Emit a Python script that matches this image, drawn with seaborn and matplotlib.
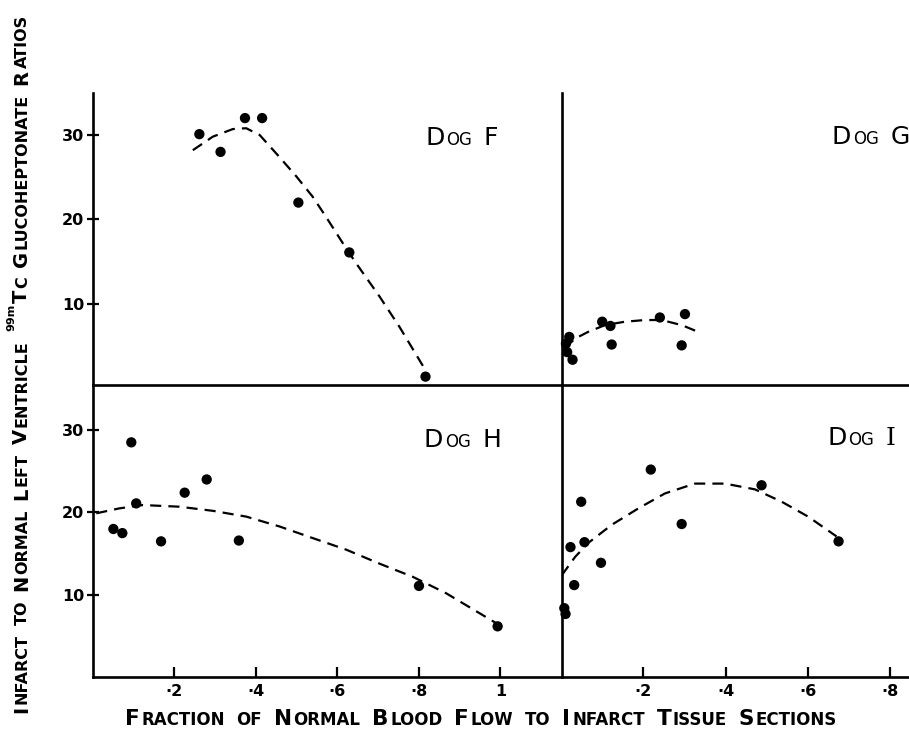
import numpy as np
import pandas as pd
import seaborn as sns
import matplotlib
matplotlib.use("Agg")
import matplotlib.pyplot as plt
from matplotlib.transforms import IdentityTransform

# ---------------- data ----------------
dog_f_x = [0.261, 0.313, 0.373, 0.415, 0.504, 0.629, 0.816]
dog_f_y = [30.1, 28.0, 32.0, 32.0, 22.0, 16.1, 1.4]
curve_f_x = [0.245, 0.294, 0.343, 0.376, 0.409, 0.450, 0.499, 0.539, 0.572, 0.613, 0.646, 0.703, 0.752, 0.818]
curve_f_y = [28.2, 29.8, 30.7, 30.8, 30.0, 27.8, 25.1, 22.7, 20.3, 17.2, 14.8, 10.9, 7.3, 2.0]

dog_g_x = [0.020, 0.012, 0.015, 0.028, 0.100, 0.120, 0.123, 0.240, 0.301, 0.293]
dog_g_y = [6.1, 5.3, 4.3, 3.4, 7.9, 7.4, 5.2, 8.4, 8.8, 5.1]
curve_g_x = [0.010, 0.034, 0.066, 0.107, 0.155, 0.204, 0.244, 0.293, 0.333]
curve_g_y = [4.8, 5.9, 6.7, 7.5, 7.9, 8.1, 8.1, 7.5, 6.7]

dog_h_x = [0.050, 0.072, 0.094, 0.106, 0.167, 0.225, 0.279, 0.358, 0.800, 0.993]
dog_h_y = [18.0, 17.5, 28.5, 21.1, 16.5, 22.4, 24.0, 16.6, 11.1, 6.2]
curve_h_x = [0.008, 0.065, 0.122, 0.212, 0.294, 0.376, 0.458, 0.539, 0.621, 0.703, 0.785, 0.867, 0.989]
curve_h_y = [19.9, 20.5, 20.9, 20.7, 20.2, 19.5, 18.3, 16.9, 15.5, 13.8, 12.2, 10.2, 6.6]

dog_i_x = [0.008, 0.011, 0.032, 0.023, 0.049, 0.057, 0.097, 0.218, 0.293, 0.487, 0.674]
dog_i_y = [8.4, 7.7, 11.2, 15.8, 21.3, 16.4, 13.9, 25.2, 18.6, 23.3, 16.5]
curve_i_x = [0.002, 0.034, 0.066, 0.123, 0.188, 0.252, 0.325, 0.398, 0.471, 0.536, 0.600, 0.669]
curve_i_y = [12.4, 14.6, 16.3, 18.5, 20.5, 22.3, 23.5, 23.5, 22.8, 21.3, 19.5, 17.1]

y_ticks = [10, 20, 30]
y_tick_labels = ["10", "20", "30"]
x_ticks_left = [0.2, 0.4, 0.6, 0.8, 1.0]
x_tick_labels_left = ["·2", "·4", "·6", "·8", "1"]
x_ticks_right = [0.2, 0.4, 0.6, 0.8]
x_tick_labels_right = ["·2", "·4", "·6", "·8"]

# ---------------- figure ----------------
sns.set_theme(style="white")
plt.rcParams["font.family"] = ["DejaVu Sans"]

W, H = 909, 732
fig = plt.figure(figsize=(W / 100, H / 100), dpi=100)
fig.patch.set_facecolor("white")


def ax_at(x0, x1, ytop, ybot):
    return fig.add_axes([x0 / W, (H - ybot) / H, (x1 - x0) / W, (ybot - ytop) / H])


axF = ax_at(93, 562, 93, 385)
axG = ax_at(562, 909, 93, 385)
axH = ax_at(93, 562, 385, 677)
axI = ax_at(562, 909, 385, 677)

panels = [
    (axF, dog_f_x, dog_f_y, curve_f_x, curve_f_y),
    (axG, dog_g_x, dog_g_y, curve_g_x, curve_g_y),
    (axH, dog_h_x, dog_h_y, curve_h_x, curve_h_y),
    (axI, dog_i_x, dog_i_y, curve_i_x, curve_i_y),
]

for ax, px, py, cx, cy in panels:
    pts = pd.DataFrame({"x": px, "y": py})
    crv = pd.DataFrame({"x": cx, "y": cy})
    sns.lineplot(data=crv, x="x", y="y", ax=ax, sort=False, estimator=None,
                 color="black", linewidth=1.6, linestyle=(0, (5, 3.2)))
    sns.scatterplot(data=pts, x="x", y="y", ax=ax, color="black", s=55,
                    edgecolor="none", zorder=5, clip_on=False)
    ax.set_xlabel("")
    ax.set_ylabel("")
    for side in ["top", "right"]:
        ax.spines[side].set_visible(False)
    for side in ["left", "bottom"]:
        ax.spines[side].set_linewidth(1.9)
        ax.spines[side].set_color("black")
    ax.patch.set_alpha(0.0)

# limits
axF.set_xlim(0, 1.151)
axH.set_xlim(0, 1.151)
axG.set_xlim(0.0024, 0.845)
axI.set_xlim(0.0024, 0.845)
axF.set_ylim(0.41, 34.97)
axG.set_ylim(0.41, 34.97)
axH.set_ylim(0.06, 35.45)
axI.set_ylim(0.06, 35.45)

tick_font = dict(fontsize=11.5, fontweight="bold")
for ax in (axF, axH):
    ax.set_yticks(y_ticks)
    ax.set_yticklabels(y_tick_labels, **tick_font)
    ax.tick_params(axis="y", direction="inout", length=9, width=1.6, pad=2, colors="black", left=True)
for ax in (axG, axI):
    ax.set_yticks([])
for ax in (axF, axG):
    ax.set_xticks([])
axH.set_xticks(x_ticks_left)
axH.set_xticklabels(x_tick_labels_left, **tick_font)
axI.set_xticks(x_ticks_right)
axI.set_xticklabels(x_tick_labels_right, **tick_font)
for ax in (axH, axI):
    ax.tick_params(axis="x", direction="in", length=7, width=1.6, pad=5, colors="black", bottom=True)

# ---------------- small-caps lettering ----------------
renderer = fig.canvas.get_renderer()


def draw_words(x0, y0, words, vertical=False, total=None, gap=8, weight="bold", kern=1.0):
    objs = []
    for w in words:
        wobjs = []
        for chunk in w:
            s, size, off = chunk[0], chunk[1], chunk[2]
            fam = chunk[3] if len(chunk) > 3 else "DejaVu Sans"
            t = fig.text(0, 0, s, fontsize=size, fontweight=weight, family=fam,
                         transform=IdentityTransform(), rotation=90 if vertical else 0,
                         ha="left", va="baseline", rotation_mode="anchor", color="black")
            bb = t.get_window_extent(renderer)
            adv = bb.height if vertical else bb.width
            wobjs.append((t, adv, off))
        objs.append(wobjs)
    widths = [sum(a for _, a, _ in w) + kern * (len(w) - 1) for w in objs]
    if total is not None and len(objs) > 1:
        gap = (total - sum(widths)) / (len(objs) - 1)
    pos = 0.0
    for w in objs:
        for t, adv, off in w:
            if vertical:
                t.set_position((x0 - off, y0 + pos))
            else:
                t.set_position((x0 + pos, y0 + off))
            pos += adv + kern
        pos += gap - kern


def sc(word, big, small):
    return [(word[0], big, 0), (word[1:], small, 0)]


# panel labels
LB, LS = 18, 12
for x, y, letter, fam in [(425, H - 145, "F", "DejaVu Sans"), (832, H - 144, "G", "DejaVu Sans"),
                          (424, H - 447, "H", "DejaVu Sans"), (827, H - 445, "I", "DejaVu Serif")]:
    draw_words(x, y, [sc("DOG", LB, LS), [(letter, LB, 0, fam)]], gap=11, weight="normal", kern=2)

# x label
XB, XS = 15.5, 12
xwords = [sc("FRACTION", XB, XS), [("OF", XS, 0)], sc("NORMAL", XB, XS), sc("BLOOD", XB, XS),
          sc("FLOW", XB, XS), [("TO", XS, 0)], sc("INFARCT", XB, XS), sc("TISSUE", XB, XS),
          sc("SECTIONS", XB, XS)]
draw_words(125, H - 725, xwords, total=712, kern=1.5)

# y label
YB, YS = 14, 11.5
ywords = [sc("INFARCT", YB, YS), [("TO", YS, 0)], sc("NORMAL", YB, YS), sc("LEFT", YB, YS),
          sc("VENTRICLE", YB, YS),
          [("99m", 8, 13), ("T", YB, 0), ("C", YS, 0)],
          sc("GLUCOHEPTONATE", YB, YS), sc("RATIOS", YB, YS)]
draw_words(27, H - 713, ywords, vertical=True, total=698, kern=1.5)

fig.savefig("out.png", dpi=100, facecolor="white")
